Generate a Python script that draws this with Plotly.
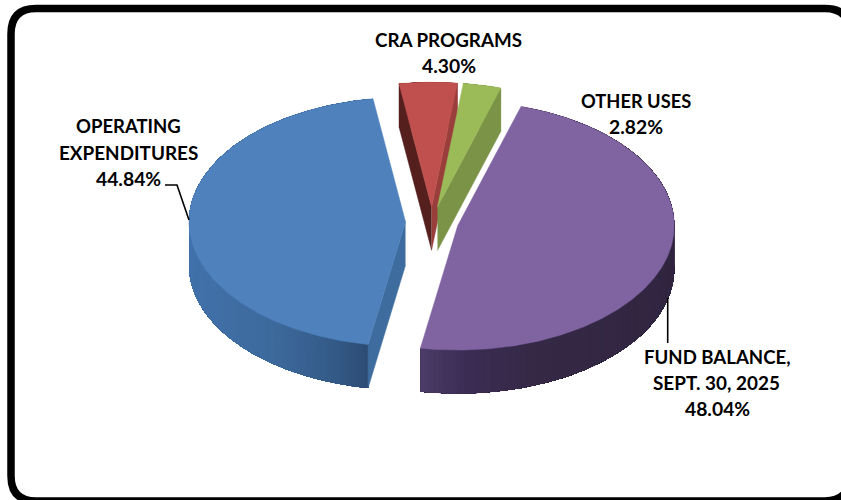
import numpy as np
import plotly.graph_objects as go

# Data
categories = ["FUND BALANCE, SEPT. 30, 2025", "OPERATING EXPENDITURES", "CRA PROGRAMS", "OTHER USES"]
values = [48.04, 44.84, 4.30, 2.82]
value_labels = ["48.04%", "44.84%", "4.30%", "2.82%"]
top_colors = ["#8064A2", "#4F81BD", "#C0504D", "#9BBB59"]

# Side shading, keyed by screen position from left to right of each rim
rim_stops = {
    "FUND BALANCE, SEPT. 30, 2025": [(0.0, "#4C3C68"), (0.18, "#3B2D54"), (0.45, "#352946"), (1.0, "#312641")],
    "OPERATING EXPENDITURES": [(0.0, "#4272AA"), (0.45, "#3D6A9D"), (0.8, "#345A87"), (1.0, "#2C4A72")],
    "CRA PROGRAMS": [(0.0, "#8A3634"), (1.0, "#8A3634")],
    "OTHER USES": [(0.0, "#7A9347"), (1.0, "#7A9347")],
}
cut_left = {"CRA PROGRAMS": "#551F1E"}
cut_right = {"OPERATING EXPENDITURES": "#3F6C9E", "CRA PROGRAMS": "#9A3E3C", "OTHER USES": "#7A9347"}

# Projection of the tilted pie
CX, CY = 432.0, 222.0
RX, RY = 216.5, 124.5
DEPTH = 43.5
PULL = 26.5
START = 17.0


def hex2rgb(h):
    return np.array([int(h[i:i + 2], 16) for i in (1, 3, 5)], float)


def ramp(stops, t):
    for (a, ca), (b, cb) in zip(stops, stops[1:]):
        if t <= b:
            f = (t - a) / max(b - a, 1e-9)
            c = hex2rgb(ca) * (1 - f) + hex2rgb(cb) * f
            return "rgb({},{},{})".format(*[int(round(v)) for v in c])
    return stops[-1][1]


def poly(fig, xs, ys, color, width=0.0):
    fig.add_trace(go.Scatter(
        x=xs, y=ys, mode="lines", fill="toself", fillcolor=color,
        line=dict(color=color, width=width), hoverinfo="skip", showlegend=False,
    ))


fig = go.Figure()

# Build the wedge geometry from the values
angle = START
wedges = {}
for name, val in zip(categories, values):
    sweep = val / sum(values) * 360.0
    wedges[name] = (angle, angle + sweep)
    angle += sweep

for name, color in zip(["CRA PROGRAMS", "OTHER USES", "OPERATING EXPENDITURES", "FUND BALANCE, SEPT. 30, 2025"],
                       [top_colors[2], top_colors[3], top_colors[1], top_colors[0]]):
    a0, a1 = wedges[name]
    mid = np.radians((a0 + a1) / 2)
    ax = CX + PULL * np.sin(mid)
    ay = CY - PULL * RY / RX * np.cos(mid)
    th = np.radians(np.linspace(a0, a1, max(int(a1 - a0) * 2, 12)))
    ex = ax + RX * np.sin(th)
    ey = ay - RY * np.cos(th)

    # rim: painted from the far end so each strip overlaps the one after it
    lo, hi = ex.min(), ex.max()
    n = len(th)
    order = range(n - 1) if ex[0] > ex[-1] else range(n - 2, -1, -1)
    rim_order = list(order)
    step = 1 if ex[0] > ex[-1] else -1
    for i in rim_order:
        t = (ex[i] - lo) / max(hi - lo, 1e-9)
        if step == 1:
            js = np.arange(i, n)
        else:
            js = np.arange(0, i + 2)
        poly(fig, [*ex[js], *ex[js][::-1]], [*ey[js], *(ey[js][::-1] + DEPTH)],
             ramp(rim_stops[name], t))

    # cut faces
    if name in cut_right:
        edge = 0 if name == "OPERATING EXPENDITURES" else -1
        poly(fig, [ax, ex[edge], ex[edge], ax],
             [ay, ey[edge], ey[edge] + DEPTH, ay + DEPTH], cut_right[name], 0.5)
    if name in cut_left:
        poly(fig, [ax, ex[0], ex[0], ax],
             [ay, ey[0], ey[0] + DEPTH, ay + DEPTH], cut_left[name], 0.5)

    # top face
    poly(fig, [ax, *ex, ax], [ay, *ey, ay], color, 0.5)

# Leader lines
leaders = [
    ([165, 177, 189], [185, 185, 220]),
    ([667.7, 667.7], [298, 343]),
]
for lx, ly in leaders:
    fig.add_trace(go.Scatter(x=lx, y=ly, mode="lines", line=dict(color="black", width=1.6),
                             hoverinfo="skip", showlegend=False))

# Labels: one annotation per line for exact leading
label_lines = [
    ("OPERATING", 128, 126, 18.5), ("EXPENDITURES", 128.5, 152, 18.9), (value_labels[1], 128.5, 178, 19.3),
    ("CRA PROGRAMS", 448.5, 39, 18.8), (value_labels[2], 448.5, 65, 19.3),
    ("OTHER USES", 636, 101, 18.3), (value_labels[3], 636, 126, 19.3),
    ("FUND BALANCE,", 717.5, 356.5, 18.6), ("SEPT. 30, 2025", 716.5, 382.5, 18.9), (value_labels[0], 717, 408, 19.3),
]
annotations = [
    dict(x=x, y=y, text="<b>%s</b>" % t, showarrow=False, xref="x", yref="y",
         font=dict(family="Lato, Carlito, sans-serif", size=s, color="#000000"))
    for t, x, y, s in label_lines
]

# Rounded outer frame, partly cut by the picture's right and bottom edges
fig.update_layout(
    width=841, height=500, margin=dict(l=0, r=0, t=0, b=0, pad=0), autosize=False,
    paper_bgcolor="white", plot_bgcolor="white", showlegend=False,
    xaxis=dict(range=[0, 841], visible=False, fixedrange=True),
    yaxis=dict(range=[500, 0], visible=False, fixedrange=True),
    annotations=annotations,
    shapes=[dict(
        type="path", xref="x", yref="y", layer="below",
        path="M 11,34 Q 11,8.5 36,8.5 L 825,8.5 Q 850,8.5 850,34 L 850,476 Q 850,501 825,501 L 36,501 Q 11,501 11,476 Z",
        line=dict(color="black", width=7.5),
    )],
)

fig.write_html("out.html", post_script="document.body.style.margin='0';", config={"displayModeBar": False})
